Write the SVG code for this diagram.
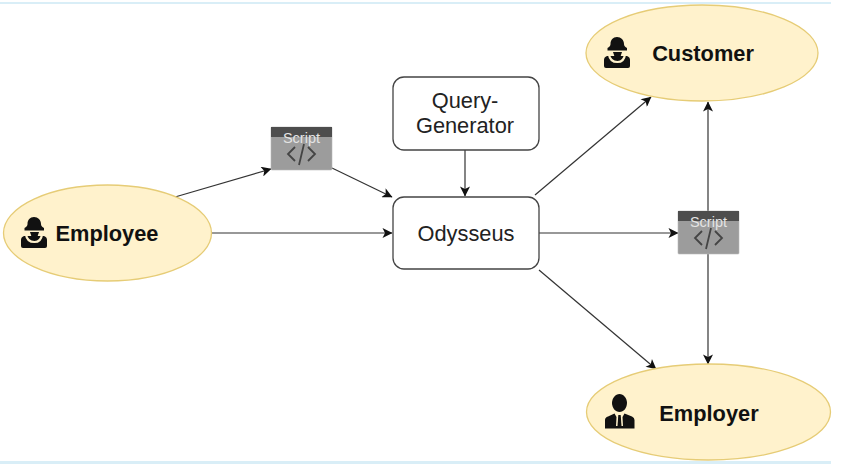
<svg xmlns="http://www.w3.org/2000/svg" width="853" height="465" viewBox="0 0 853 465">
<style>
.e{fill:#fff2cc;stroke:#e6cc76;stroke-width:1.3}
.b{fill:#fff;stroke:#444;stroke-width:1.3}
.c{fill:none;stroke:#333;stroke-width:1.2;marker-end:url(#a)}
.l{font-family:"Liberation Sans",Arial,sans-serif;font-size:21.800px;fill:#222;text-anchor:middle}
.h{font-weight:bold;fill:#111}
.s{font-family:"Liberation Sans",Arial,sans-serif;font-size:14.500px;fill:#e4e4e4;text-anchor:middle}
.g{fill:none;stroke:#444;stroke-width:1.8}
.i{fill:#111}
.k{fill:none;stroke:#fff2cc;stroke-width:2.200}
</style>
<defs>
<marker id="a" viewBox="0 0 10 10" refX="9.5" refY="5" markerWidth="11" markerHeight="10" markerUnits="userSpaceOnUse" orient="auto"><path d="M0 0L10 5L0 10L2.5 5Z" fill="#111"/></marker>
<g id="script"><rect x="0" y="0" width="61" height="43" rx="1" fill="#9c9c9c" stroke="#bbb" stroke-width=".6"/><rect x="0" y="0" width="61" height="10" fill="#4d4d4d"/><path class="g" d="M24 20L17 27L24 34M37 20L44 27L37 34M33 17L28 38"/></g>
<g id="woman"><path class="i" d="M13 0C9 0 6.500 3 6.500 7C6.500 8.500 6 9.500 3.500 11L3.500 13.500L23 13.500L23 11C20.500 9.500 20 8.500 20 7C20 3 17 0 13 0Z"/><path class="i" d="M3 19L23 19Q26 20 26 23L26 29Q26 31 24 31L2 31Q0 31 0 29L0 23Q0 20 3 19Z"/><path class="k" d="M5 17.500Q6 25 13.500 25Q20 25 21 17.500"/><path class="i" d="M9 15L18 15L16.500 19.500L13.500 22.500L10.500 19.500Z"/></g>
</defs>
<rect x="0" y="2" width="831" height="2" fill="#d9eef7"/>
<rect x="0" y="461" width="831" height="3" fill="#d9eef7"/>
<g id="connectors">
<path class="c" d="M175 197L271 169"/>
<path class="c" d="M332 168L392 197"/>
<path class="c" d="M211 233L392 233"/>
<path class="c" d="M465 150L465 196"/>
<path class="c" d="M535 195L651 97"/>
<path class="c" d="M539 233L678 233"/>
<path class="c" d="M539 270L656 369"/>
<path class="c" d="M708 211L708 102"/>
<path class="c" d="M708 254L708 364"/>
</g>
<g id="employee"><ellipse class="e" cx="107.500" cy="233" rx="104" ry="48"/><use href="#woman" x="21" y="217"/><text class="l h" x="107" y="240.500">Employee</text></g>
<g id="customer"><ellipse class="e" cx="702" cy="53" rx="116" ry="48"/><use href="#woman" x="604" y="37"/><text class="l h" x="703" y="60.500">Customer</text></g>
<g id="employer"><ellipse class="e" cx="708.500" cy="412" rx="122" ry="48"/><path class="i" d="M619.500 394C623.500 394 627 398 627 403C627 408 623.500 412 619.500 412C615.500 412 612 408 612 403C612 398 615.500 394 619.500 394Z"/><path class="i" d="M605 428.500L605 420Q605 417.500 608 416.500L614.500 413.500L616.500 417L616 426L623 426L622.500 417L624.500 413.500L632 416.500Q634.500 417.500 634.500 420L634.500 428.500Z"/><path class="i" d="M618.300 415L620.700 415L621.500 426L617.500 426Z"/><text class="l h" x="709" y="420.500">Employer</text></g>
<g id="query-generator"><rect class="b" x="393" y="77" width="146" height="73" rx="11"/><text class="l" x="465" y="108">Query-</text><text class="l" x="465" y="133">Generator</text></g>
<g id="odysseus"><rect class="b" x="393" y="197" width="146" height="72" rx="11"/><text class="l" x="466" y="240.500">Odysseus</text></g>
<g id="script-1"><use href="#script" x="271" y="127"/><text class="s" x="301.500" y="143">Script</text></g>
<g id="script-2"><use href="#script" x="678" y="211"/><text class="s" x="708.500" y="227">Script</text></g>
</svg>
